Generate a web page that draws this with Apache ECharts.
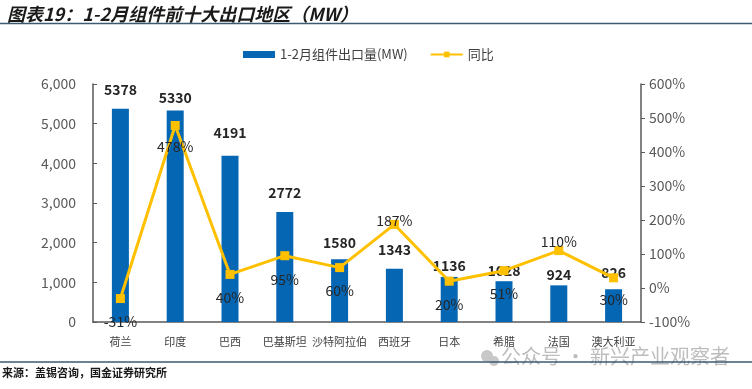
<!DOCTYPE html>
<html><head><meta charset="utf-8">
<script src="https://cdn.jsdelivr.net/npm/echarts@6/dist/echarts.min.js"></script>
<style>html,body{margin:0;padding:0;background:#fff}#c{width:752px;height:389px}</style>
</head><body><div id="c"></div>
<script>
const categories = ['荷兰','印度','巴西','巴基斯坦','沙特阿拉伯','西班牙','日本','希腊','法国','澳大利亚'];
const exportMW = [5378,5330,4191,2772,1580,1343,1136,1028,924,826];
const yoyPct = [-31,478,40,95,60,187,20,51,110,30];
const leftTicks = [0,1000,2000,3000,4000,5000,6000];
const rightTicks = [-100,0,100,200,300,400,500,600];

const pctLabelPos = ['bottom','bottom','bottom','bottom','bottom','top','bottom','bottom','top','bottom'];
const pctLabelDist = [12,10,12,12,12,-8,12,12,-3,10];
const barLabelDist = [12,6,16,12,10,12,4,4,4,10];

const chart = echarts.init(document.getElementById('c'), null, {renderer:'canvas'});
const FONT = '"Noto Sans CJK SC", "Noto Sans", sans-serif';
chart.setOption({
  animation:false,
  textStyle:{fontFamily:FONT},
  title:{text:'图表19：1-2月组件前十大出口地区（MW）', left:2, top:0,
    textStyle:{fontFamily:FONT, fontSize:18, fontWeight:'bold', fontStyle:'italic', color:'#1a1a1a'}},
  legend:{top:43, left:238, itemGap:22, itemWidth:32, itemHeight:7,
    textStyle:{fontFamily:FONT, fontSize:13, color:'#404040'},
    data:[{name:'1-2月组件出口量(MW)', icon:'rect'},{name:'同比'}]},
  grid:{left:93, right:111, top:84, bottom:67},
  xAxis:{type:'category', data:categories, boundaryGap:true,
    axisLine:{lineStyle:{color:'#595959', width:1.5}}, axisTick:{show:false},
    axisLabel:{interval:0, fontSize:11, color:'#404040', margin:14}},
  yAxis:[
    {type:'value', min:leftTicks[0], max:leftTicks[leftTicks.length-1], interval:1000,
      axisLine:{show:true, lineStyle:{color:'#595959', width:1.5}},
      axisTick:{show:true, inside:true, length:4, lineStyle:{color:'#595959'}},
      splitLine:{show:false},
      axisLabel:{fontSize:14, color:'#595959', margin:17, formatter:v=>v.toLocaleString('en-US')}},
    {type:'value', min:rightTicks[0], max:rightTicks[rightTicks.length-1], interval:100,
      axisLine:{show:true, lineStyle:{color:'#595959', width:1.5}},
      axisTick:{show:true, length:4, lineStyle:{color:'#595959'}},
      splitLine:{show:false},
      axisLabel:{fontSize:14, color:'#595959', margin:8, formatter:'{value}%'}}
  ],
  series:[
    {name:'1-2月组件出口量(MW)', type:'bar', barWidth:17, yAxisIndex:0,
      itemStyle:{color:'#0566B4'},
      data:exportMW.map((v,i)=>({value:v, label:{distance:barLabelDist[i]}})),
      label:{show:true, position:'top', fontSize:14, fontWeight:'bold', color:'#262626'}},
    {name:'同比', type:'line', yAxisIndex:1, symbol:'rect', symbolSize:9,
      lineStyle:{color:'#FFC000', width:3}, itemStyle:{color:'#FFC000'},
      data:yoyPct.map((v,i)=>({value:v, label:{position:pctLabelPos[i], distance:pctLabelDist[i]}})),
      label:{show:true, fontSize:14, color:'#262626', formatter:p=>p.value+'%'}, z:5}
  ],
  graphic:[
    {type:'line', shape:{x1:0,y1:23.5,x2:752,y2:23.5}, style:{stroke:'#3c5a70', lineWidth:1.5}},
    {type:'circle', shape:{cx:487, cy:356, r:6}, style:{fill:'#c8c8c8'}},
    {type:'circle', shape:{cx:494, cy:361, r:5}, style:{fill:'#c8c8c8'}},
    {type:'text', left:501, top:346, style:{text:'公众号 · 新兴产业观察者', font:'20px '+FONT, fill:'#bdbdbd'}},
    {type:'line', shape:{x1:0,y1:362,x2:752,y2:362}, style:{stroke:'#3c5a70', lineWidth:1.5}},
    {type:'text', left:2, top:367, style:{text:'来源：盖锡咨询，国金证券研究所', font:'bold 11px '+FONT, fill:'#1a1a1a'}}
  ]
});
</script></body></html>
